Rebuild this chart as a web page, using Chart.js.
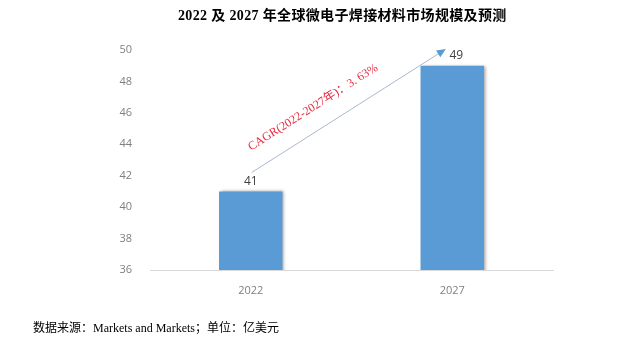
<!DOCTYPE html>
<html><head><meta charset="utf-8">
<script src="https://cdn.jsdelivr.net/npm/chart.js@4/dist/chart.umd.min.js"></script>
<style>
html,body{margin:0;padding:0;background:#fff;width:640px;height:348px;overflow:hidden;}
#wrap{position:absolute;left:0;top:0;width:640px;height:348px;}
#title{position:absolute;left:178px;top:4px;white-space:nowrap;font:bold 14px "Liberation Serif","Noto Sans CJK SC",serif;letter-spacing:0.35px;color:#000;}
#foot{position:absolute;left:33px;top:318px;white-space:nowrap;font:12px "Liberation Serif","Noto Sans CJK SC",serif;color:#000;}
</style></head>
<body>
<div id="wrap"><canvas id="c" width="640" height="348"></canvas></div>
<div id="title">2022 及 2027 年全球微电子焊接材料市场规模及预测</div>
<div id="foot">数据来源：Markets and Markets；单位：亿美元</div>
<script>
const categories = ["2022", "2027"];
const marketSize = [41, 49];
const yTicks = [36, 38, 40, 42, 44, 46, 48, 50];
const cagrLabel = "CAGR(2022-2027年)：3. 63%";

const overlay = {
  id: 'overlay',
  beforeDatasetsDraw(chart) {
    const ctx = chart.ctx;
    ctx.save();
    ctx.shadowColor = 'rgba(0,0,0,0.35)';
    ctx.shadowOffsetX = 2;
    ctx.shadowOffsetY = 0;
    ctx.shadowBlur = 3;
  },
  afterDatasetsDraw(chart) {
    const ctx = chart.ctx;
    ctx.restore();
    const meta = chart.getDatasetMeta(0);
    ctx.save();
    ctx.font = '12px "Open Sans", "Liberation Sans", sans-serif';
    ctx.fillStyle = '#404040';
    ctx.textAlign = 'center';
    ctx.textBaseline = 'bottom';
    meta.data.forEach((bar, i) => {
      ctx.fillText(String(marketSize[i]), bar.x + (i === 1 ? 4 : 0), bar.y - 4);
    });
    const b0 = meta.data[0], b1 = meta.data[1];
    const x0 = b0.x + 1, y0 = b0.y - 19;
    const x1 = b1.x - 9, y1 = b1.y - 15;
    ctx.strokeStyle = '#a9b8cc';
    ctx.lineWidth = 1;
    ctx.beginPath();
    ctx.moveTo(x0, y0);
    ctx.lineTo(x1, y1);
    ctx.stroke();
    const ang = Math.atan2(y1 - y0, x1 - x0);
    ctx.fillStyle = '#5b9bd5';
    ctx.translate(x1, y1);
    ctx.rotate(ang);
    ctx.beginPath();
    ctx.moveTo(3, 0);
    ctx.lineTo(-6, -4);
    ctx.lineTo(-6, 4);
    ctx.closePath();
    ctx.fill();
    ctx.restore();
    ctx.save();
    const mx = (x0 + x1) / 2 - 28, my = (y0 + y1) / 2 + 6;
    ctx.translate(mx, my);
    ctx.rotate(ang);
    ctx.font = '12px "Liberation Serif", "Noto Sans CJK SC", serif';
    ctx.fillStyle = '#e8293f';
    ctx.textAlign = 'center';
    ctx.textBaseline = 'bottom';
    ctx.fillText(cagrLabel, 0, -6);
    ctx.restore();
  }
};

new Chart(document.getElementById('c'), {
  type: 'bar',
  data: {
    labels: categories,
    datasets: [{
      data: marketSize,
      backgroundColor: '#5b9bd5',
      borderWidth: 0,
      categoryPercentage: 1,
      barPercentage: 0.315
    }]
  },
  options: {
    responsive: false,
    animation: false,
    layout: { padding: { left: 0, right: 87, top: 50, bottom: 48 } },
    plugins: { legend: { display: false }, tooltip: { enabled: false }, title: { display: false } },
    scales: {
      x: {
        grid: { display: false },
        border: { display: true, color: '#d9d9d9', width: 1 },
        ticks: { color: '#7f7f7f', font: { size: 11, family: '"Open Sans", "Liberation Sans", sans-serif' }, padding: 6 },
        afterFit(s) { s.height = 30; }
      },
      y: {
        min: 36, max: 50,
        afterBuildTicks(s) { s.ticks = yTicks.map(v => ({ value: v })); },
        grid: { display: false },
        border: { display: false },
        ticks: { color: '#7f7f7f', font: { size: 11, family: '"Open Sans", "Liberation Sans", sans-serif' }, padding: 10 },
        afterFit(s) { s.width = 150; }
      }
    }
  },
  plugins: [overlay]
});
</script>
</body></html>
